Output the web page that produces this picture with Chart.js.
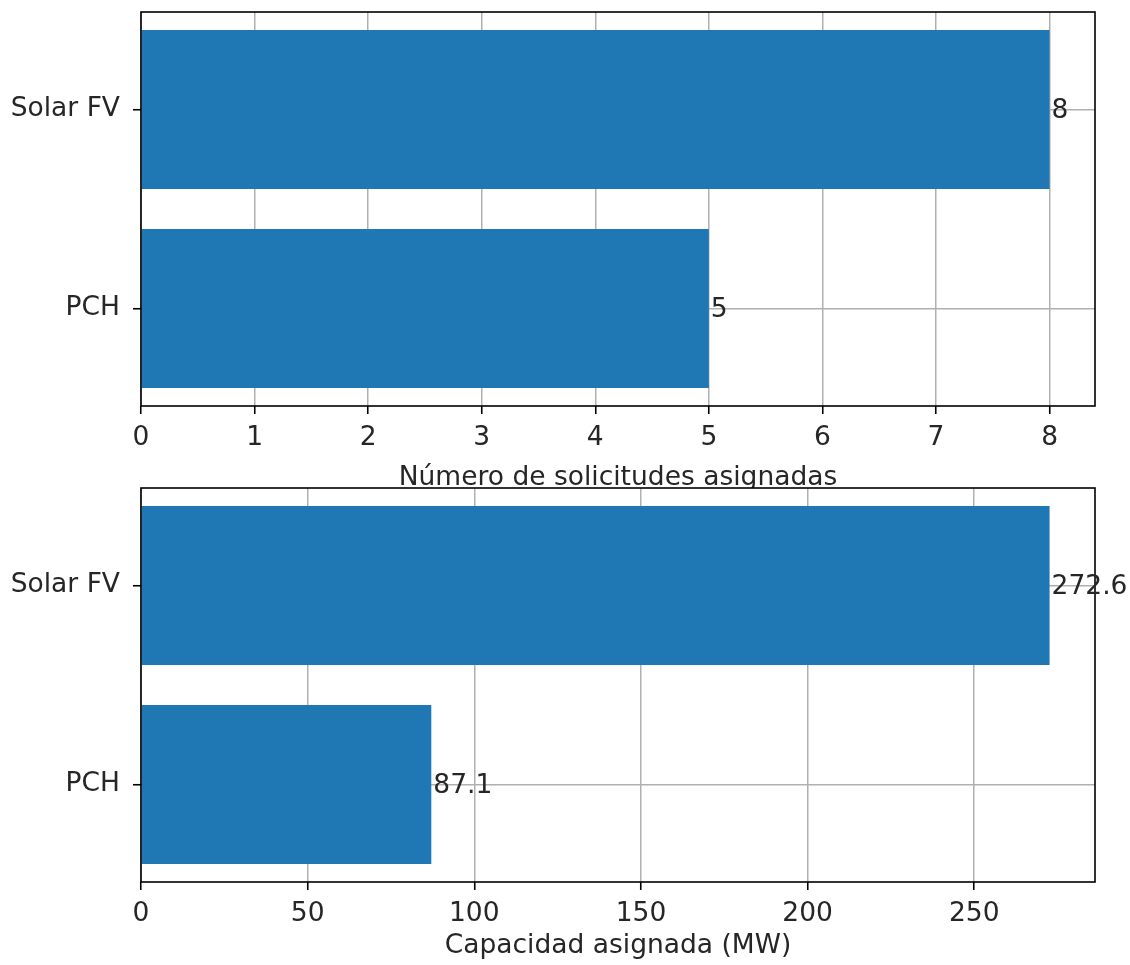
<!DOCTYPE html>
<html>
<head>
<meta charset="utf-8">
<script src="https://cdn.jsdelivr.net/npm/chart.js@4.4.0/dist/chart.umd.min.js"></script>
<style>
html,body{margin:0;padding:0;background:#fff;width:1130px;height:965px;overflow:hidden;}
canvas{position:absolute;left:0;}
#c1{top:0;}
#c2{top:470px;}
</style>
</head>
<body>
<canvas id="c1" width="1130" height="500"></canvas>
<canvas id="c2" width="1130" height="495"></canvas>
<script>
const categories = ["PCH", "Solar FV"];
const solicitudes = [5, 8];
const capacidad = [87.1, 272.6];
const solicitudesLabels = ["5", "8"];
const capacidadLabels = ["87.1", "272.6"];
const xTitleTop = "Número de solicitudes asignadas";
const xTitleBottom = "Capacidad asignada (MW)";
const xTicksTop = [0, 1, 2, 3, 4, 5, 6, 7, 8];
const xTicksBottom = [0, 50, 100, 150, 200, 250];

const FONT = "'DejaVu Sans', sans-serif";
const FS = 26.5;
const TXT = '#262626';

const bgPlugin = {
  id: 'areaBg',
  beforeDraw(chart) {
    const {ctx, chartArea: a} = chart;
    ctx.save();
    ctx.fillStyle = '#fff';
    ctx.fillRect(a.left, a.top, a.right - a.left, a.bottom - a.top);
    ctx.restore();
  }
};
const framePlugin = {
  id: 'frame',
  afterDraw(chart) {
    const {ctx, chartArea: a} = chart;
    ctx.save();
    ctx.strokeStyle = '#000';
    ctx.lineWidth = 1.6;
    ctx.strokeRect(a.left, a.top, a.right - a.left, a.bottom - a.top);
    ctx.restore();
  }
};
const valueLabelPlugin = {
  id: 'valueLabels',
  afterDraw(chart, args, opts) {
    const {ctx} = chart;
    const xs = chart.scales.x, ys = chart.scales.y;
    ctx.save();
    ctx.font = FS + 'px ' + FONT;
    ctx.fillStyle = TXT;
    ctx.textAlign = 'left';
    ctx.textBaseline = 'middle';
    const data = chart.data.datasets[0].data;
    data.forEach((d, i) => {
      ctx.fillText(opts.labels[i], xs.getPixelForValue(d.x) + 2, ys.getPixelForValue(d.y) + 2);
    });
    ctx.restore();
  }
};

function makeChart(id, values, labels, xTicks, xMax, title, padTop, axisH, titlePadBottom) {
  return new Chart(document.getElementById(id), {
    type: 'bar',
    data: {
      datasets: [{
        data: values.map((v, i) => ({x: v, y: i})),
        backgroundColor: '#1f77b4',
        borderWidth: 0,
        barPercentage: 0.8,
        categoryPercentage: 1.0
      }]
    },
    options: {
      indexAxis: 'y',
      responsive: false,
      animation: false,
      devicePixelRatio: 1,
      layout: {padding: {top: padTop, right: 35, left: 0, bottom: 0}},
      plugins: {
        legend: {display: false},
        tooltip: {enabled: false},
        valueLabels: {labels: labels}
      },
      scales: {
        x: {
          type: 'linear',
          position: 'bottom',
          min: 0,
          max: xMax,
          z: 1,
          afterBuildTicks: s => { s.ticks = xTicks.map(v => ({value: v})); },
          afterFit: s => { s.height = axisH; s.paddingLeft = 0; s.paddingRight = 0; },
          ticks: {color: TXT, font: {family: FONT, size: FS}, padding: 8, maxRotation: 0, autoSkip: false,
                  callback: (v) => String(v)},
          grid: {color: '#b0b0b0', lineWidth: 1.5, tickLength: 8, tickColor: '#000', tickWidth: 1.6, drawTicks: true},
          border: {display: false},
          title: {display: true, text: title, color: TXT, font: {family: FONT, size: FS},
                  padding: {top: 0, bottom: titlePadBottom}}
        },
        y: {
          type: 'linear',
          position: 'left',
          min: -0.49,
          max: 1.49,
          offset: false,
          z: 1,
          afterBuildTicks: s => { s.ticks = categories.map((c, i) => ({value: i})); },
          afterFit: s => { s.width = 141; s.paddingTop = 0; s.paddingBottom = 0; },
          ticks: {color: TXT, font: {family: FONT, size: FS}, padding: 13, autoSkip: false,
                  callback: (v) => categories[v] !== undefined ? categories[v] : ''},
          grid: {color: '#b0b0b0', lineWidth: 1.5, tickLength: 8, tickColor: '#000', tickWidth: 1.6, offset: false},
          border: {display: false}
        }
      }
    },
    plugins: [bgPlugin, framePlugin, valueLabelPlugin]
  });
}

makeChart('c1', solicitudes, solicitudesLabels, xTicksTop, 8.4, xTitleTop, 12, 94, 6);
makeChart('c2', capacidad, capacidadLabels, xTicksBottom, 286.23, xTitleBottom, 18, 83, 3);
</script>
</body>
</html>
